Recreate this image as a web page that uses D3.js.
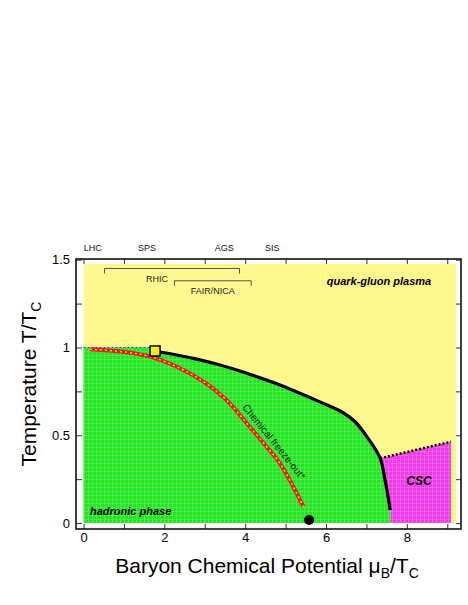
<!DOCTYPE html>
<html>
<head>
<meta charset="utf-8">
<script src="https://cdn.jsdelivr.net/npm/d3@7"></script>
<style>
  body { margin: 0; background: #fff; }
  text { font-family: "Liberation Sans", Arial, sans-serif; }
</style>
</head>
<body>
<div id="chart"></div>
<script>
// chart data
const xTicks = [0, 2, 4, 6, 8];
const yTicks = [0, 0.5, 1, 1.5];
const yTickLabels = ['0', '0.5', '1', '1.5'];

// phase boundary (black line), starts at the square marker
const phaseX = [1.77, 2.72, 3.38, 4.04, 4.70, 5.19, 5.85, 6.43, 6.72, 7.01, 7.34, 7.46, 7.59];
const phaseY = [0.98, 0.938, 0.900, 0.853, 0.800, 0.755, 0.690, 0.628, 0.577, 0.492, 0.369, 0.245, 0.074];

// chemical freeze-out curve
const freezeX = [0.16, 1.07, 1.65, 2.31, 2.97, 3.54, 4.04, 4.53, 4.86, 5.19, 5.44];
const freezeY = [0.99, 0.973, 0.948, 0.89, 0.805, 0.70, 0.568, 0.435, 0.34, 0.207, 0.093];

// CSC upper boundary (dotted)
const cscX = [7.34, 9.09];
const cscY = [0.369, 0.463];

// accelerator labels on top
const accelNames = ['LHC', 'SPS', 'AGS', 'SIS'];
const accelX = [0.23, 1.57, 3.48, 4.67];

// brackets
const bracketNames = ['RHIC', 'FAIR/NICA'];
const bracketFrom = [0.52, 2.25];
const bracketTo = [3.86, 4.15];
const bracketY = [1.45, 1.38];

// point markers
const squarePt = [1.77, 0.98];
const dotPt = [5.58, 0.017];

// region extents
const regionXMax = 9.22, regionYMax = 1.476, cscXMax = 9.09, greenBottomX = 7.6;

const width = 468, height = 605;
const margin = {top: 259, right: 7, bottom: 76, left: 76};
const plotWidth = width - margin.left - margin.right;
const plotHeight = height - margin.top - margin.bottom;

const svg = d3.select('#chart').append('svg')
    .attr('width', width)
    .attr('height', height);

// fill patterns
const defs = svg.append('defs');
function makePattern(id, base, line) {
    const p = defs.append('pattern')
        .attr('id', id)
        .attr('width', 4).attr('height', 4)
        .attr('patternUnits', 'userSpaceOnUse');
    p.append('rect').attr('width', 4).attr('height', 4).attr('fill', base);
    p.append('path').attr('d', 'M0,0.5H4M0.5,0V4')
        .attr('stroke', line).attr('stroke-width', 0.7).attr('opacity', 0.6);
}
makePattern('pYellow', '#fff684', '#fffcc0');
makePattern('pGreen', '#22e622', '#7cf27c');
makePattern('pMagenta', '#f03ae8', '#f78cf2');

const g = svg.append('g')
    .attr('transform', 'translate(' + margin.left + ',' + margin.top + ')');

const x = d3.scaleLinear().domain([-0.186, 9.34]).range([0, plotWidth]);
const y = d3.scaleLinear().domain([-0.034, 1.504]).range([plotHeight, 0]);

const line = d3.line().x(d => x(d[0])).y(d => y(d[1]));
const curve = d3.line().x(d => x(d[0])).y(d => y(d[1])).curve(d3.curveCatmullRom.alpha(0.5));

const phasePts = phaseX.map((v, i) => [v, phaseY[i]]);
const freezePts = freezeX.map((v, i) => [v, freezeY[i]]);
const phasePath = curve(phasePts);

// quark-gluon plasma background
g.append('rect')
    .attr('x', x(0)).attr('y', y(regionYMax))
    .attr('width', x(regionXMax) - x(0))
    .attr('height', y(0) - y(regionYMax))
    .attr('fill', 'url(#pYellow)');

// hadronic phase: T = Tc plateau, then the phase boundary
g.append('path')
    .attr('d', line([[0, 0], [0, 1.0], [squarePt[0], 1.0]]) + 'L' + phasePath.slice(1)
        + 'L' + x(greenBottomX) + ',' + y(0) + 'Z')
    .attr('fill', 'url(#pGreen)');

// CSC region
const cscStart = phaseX.indexOf(cscX[0]);
const cscEdge = phasePts.slice(cscStart);
g.append('path')
    .attr('d', curve(cscEdge) + 'L' + line([[greenBottomX, 0], [cscX[1], 0], [cscX[1], cscY[1]]]).slice(1) + 'Z')
    .attr('fill', 'url(#pMagenta)');

// blue dotted line at T = Tc
g.append('path')
    .attr('d', line([[0, 1.0], [squarePt[0], 1.0]]))
    .attr('stroke', '#2040ff').attr('stroke-width', 1.2)
    .attr('stroke-dasharray', '2,2').attr('fill', 'none');

// light dashed line at T = 0
g.append('path')
    .attr('d', line([[0, 0], [regionXMax, 0]]))
    .attr('stroke', '#bbb').attr('stroke-width', 0.8)
    .attr('stroke-dasharray', '2,2').attr('fill', 'none');

// CSC dotted boundary
g.append('path')
    .attr('d', line(cscX.map((v, i) => [v, cscY[i]])))
    .attr('stroke', '#000').attr('stroke-width', 2.5)
    .attr('stroke-dasharray', '2,2').attr('fill', 'none');

// phase boundary
g.append('path')
    .attr('d', phasePath)
    .attr('stroke', '#000').attr('stroke-width', 3.2)
    .attr('stroke-linejoin', 'round')
    .attr('fill', 'none');

// chemical freeze-out
g.append('path')
    .attr('d', curve(freezePts))
    .attr('stroke', '#f01818').attr('stroke-width', 4)
    .attr('fill', 'none');
g.append('path')
    .attr('d', curve(freezePts))
    .attr('stroke', '#ffe030').attr('stroke-width', 1.5)
    .attr('stroke-dasharray', '2,3')
    .attr('fill', 'none');

// markers
g.append('rect')
    .attr('x', x(squarePt[0]) - 5).attr('y', y(squarePt[1]) - 5)
    .attr('width', 10).attr('height', 10)
    .attr('fill', '#f8f000').attr('stroke', '#000').attr('stroke-width', 1.5);
g.append('circle')
    .attr('cx', x(dotPt[0])).attr('cy', y(dotPt[1])).attr('r', 5)
    .attr('fill', '#000');

// region labels
g.append('text')
    .attr('x', x(7.31)).attr('y', y(1.38))
    .attr('text-anchor', 'middle').attr('dy', '0.35em')
    .attr('font-size', 11).attr('font-weight', 'bold').attr('font-style', 'italic')
    .text('quark-gluon plasma');
g.append('text')
    .attr('x', x(0.16)).attr('y', y(0.068))
    .attr('dy', '0.35em')
    .attr('font-size', 11).attr('font-weight', 'bold').attr('font-style', 'italic')
    .text('hadronic phase');
g.append('text')
    .attr('x', x(8.3)).attr('y', y(0.24))
    .attr('text-anchor', 'middle').attr('dy', '0.35em')
    .attr('font-size', 12).attr('font-weight', 'bold').attr('font-style', 'italic')
    .text('CSC');
g.append('text')
    .attr('transform', 'translate(' + x(3.99) + ',' + y(0.67) + ') rotate(51)')
    .attr('dy', '0.35em')
    .attr('font-size', 10).attr('fill', '#222')
    .text('Chemical freeze-out*');

// brackets
bracketNames.forEach((name, i) => {
    const yy = y(bracketY[i]);
    g.append('path')
        .attr('d', 'M' + x(bracketFrom[i]) + ',' + (yy + 5) + 'V' + yy + 'H' + x(bracketTo[i]) + 'V' + (yy + 5))
        .attr('stroke', '#555').attr('stroke-width', 1).attr('fill', 'none');
    g.append('text')
        .attr('x', (x(bracketFrom[i]) + x(bracketTo[i])) / 2 + (i === 0 ? -15 : 0))
        .attr('y', yy + 7).attr('dy', '0.71em')
        .attr('text-anchor', 'middle')
        .attr('font-size', 9).attr('fill', '#222')
        .text(name);
});

// accelerator labels
accelNames.forEach((name, i) => {
    g.append('text')
        .attr('x', x(accelX[i])).attr('y', -8)
        .attr('text-anchor', 'middle')
        .attr('font-size', 9).attr('fill', '#111')
        .text(name);
});

// axes with inward ticks
function styleAxis(sel) {
    sel.select('.domain').remove();
    sel.selectAll('.tick line').attr('stroke', '#333').attr('stroke-width', 1);
    sel.selectAll('.tick text').attr('font-size', 13).attr('fill', '#000')
        .attr('font-family', '"Liberation Sans", Arial, sans-serif');
}
const xMinor = d3.range(0, 10, 1);
const yMinor = d3.range(0, 1.51, 0.25);

g.append('g').attr('transform', 'translate(0,' + plotHeight + ')')
    .call(d3.axisBottom(x).tickValues(xMinor).tickSize(-5).tickPadding(4)
        .tickFormat(d => xTicks.includes(d) ? d : ''))
    .call(styleAxis);
g.append('g')
    .call(d3.axisTop(x).tickValues(xMinor).tickSize(-5).tickFormat(''))
    .call(styleAxis);
g.append('g')
    .call(d3.axisLeft(y).tickValues(yMinor).tickSize(-6).tickPadding(6)
        .tickFormat(d => { const k = yTicks.indexOf(d); return k >= 0 ? yTickLabels[k] : ''; }))
    .call(styleAxis);
g.append('g').attr('transform', 'translate(' + plotWidth + ',0)')
    .call(d3.axisRight(y).tickValues(yMinor).tickSize(-5).tickFormat(''))
    .call(styleAxis);

// frame
g.append('rect')
    .attr('width', plotWidth).attr('height', plotHeight)
    .attr('fill', 'none').attr('stroke', '#111').attr('stroke-width', 1.6);

// axis titles
const xTitle = svg.append('text')
    .attr('x', 267).attr('y', 573)
    .attr('text-anchor', 'middle')
    .attr('font-size', 21);
xTitle.append('tspan').text('Baryon Chemical Potential μ');
xTitle.append('tspan').attr('font-size', 14).attr('dy', 5).text('B');
xTitle.append('tspan').attr('dy', -5).text('/T');
xTitle.append('tspan').attr('font-size', 14).attr('dy', 5).text('C');

const yTitle = svg.append('text')
    .attr('transform', 'translate(36,' + 384 + ') rotate(-90)')
    .attr('text-anchor', 'middle')
    .attr('font-size', 21);
yTitle.append('tspan').text('Temperature T/T');
yTitle.append('tspan').attr('font-size', 14).attr('dy', 5).text('C');
</script>
</body>
</html>
